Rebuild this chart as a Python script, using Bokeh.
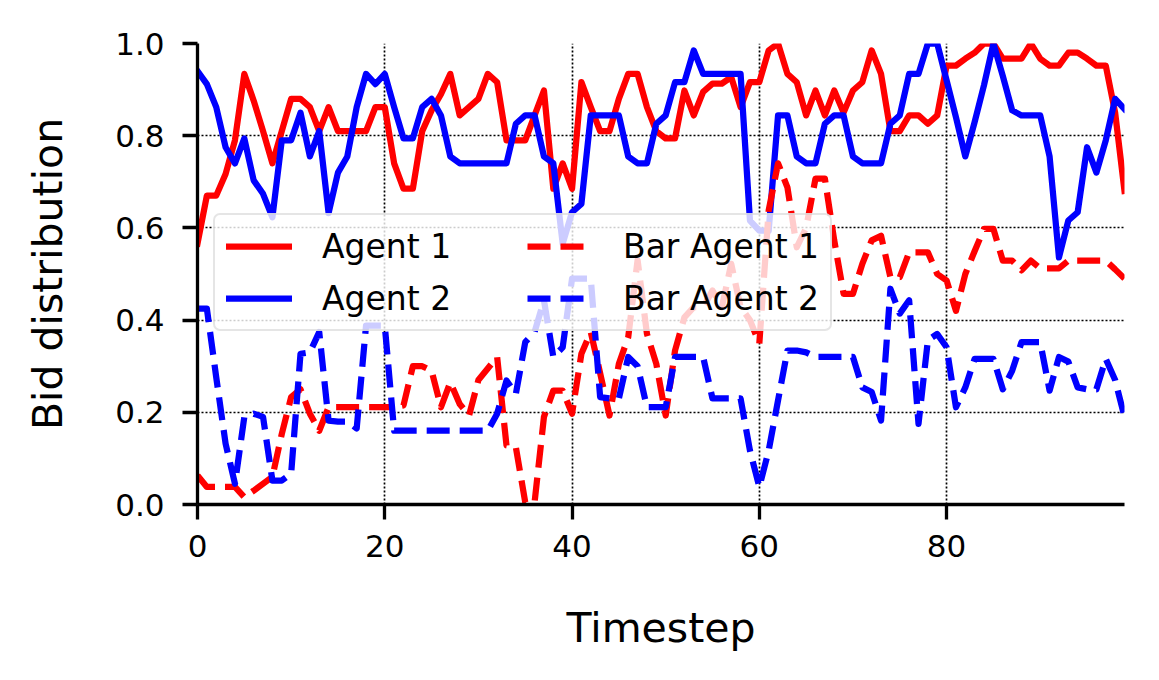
from bokeh.plotting import figure
from bokeh.models import (Range1d, FixedTicker, PrintfTickFormatter, Legend, LegendItem)
from bokeh.embed import file_html
from bokeh.resources import INLINE

timesteps = list(range(100))

agent1 = [0.566, 0.67, 0.67, 0.717, 0.79, 0.934, 0.876, 0.81, 0.74, 0.81,
          0.88, 0.88, 0.862, 0.81, 0.862, 0.81, 0.81, 0.81, 0.81, 0.862,
          0.862, 0.74, 0.685, 0.685, 0.81, 0.855, 0.89, 0.934, 0.844, 0.862,
          0.88, 0.934, 0.916, 0.79, 0.79, 0.79, 0.844, 0.898, 0.685, 0.74,
          0.685, 0.916, 0.862, 0.81, 0.81, 0.88, 0.934, 0.934, 0.862, 0.81,
          0.794, 0.794, 0.898, 0.844, 0.895, 0.913, 0.913, 0.927, 0.862, 0.916,
          0.916, 0.985, 1.0, 0.934, 0.916, 0.844, 0.898, 0.844, 0.898, 0.85,
          0.898, 0.916, 0.985, 0.934, 0.81, 0.81, 0.844, 0.844, 0.826, 0.844,
          0.952, 0.952, 0.967, 0.98, 1.0, 1.0, 0.967, 0.967, 0.967, 1.0,
          0.967, 0.952, 0.952, 0.98, 0.98, 0.967, 0.952, 0.952, 0.85, 0.68]

agent2 = [0.94, 0.912, 0.862, 0.775, 0.74, 0.794, 0.703, 0.674, 0.623, 0.79,
          0.79, 0.85, 0.755, 0.81, 0.632, 0.72, 0.755, 0.862, 0.934, 0.912,
          0.934, 0.862, 0.794, 0.794, 0.862, 0.88, 0.844, 0.755, 0.74, 0.74,
          0.74, 0.74, 0.74, 0.74, 0.826, 0.844, 0.844, 0.755, 0.74, 0.566,
          0.634, 0.652, 0.844, 0.844, 0.844, 0.844, 0.755, 0.74, 0.74, 0.826,
          0.844, 0.916, 0.916, 0.985, 0.934, 0.934, 0.934, 0.934, 0.934, 0.616,
          0.594, 0.594, 0.844, 0.844, 0.755, 0.74, 0.74, 0.826, 0.844, 0.844,
          0.755, 0.74, 0.74, 0.74, 0.826, 0.844, 0.934, 0.934, 1.0, 1.0,
          0.92, 0.84, 0.755, 0.83, 0.91, 1.0, 0.93, 0.855, 0.844, 0.844,
          0.844, 0.755, 0.536, 0.616, 0.634, 0.775, 0.72, 0.79, 0.88, 0.858]

bar_agent1 = [0.063, 0.038, 0.038, 0.038, 0.038, 0.016, 0.03, 0.045, 0.06, 0.153,
              0.233, 0.25, 0.197, 0.16, 0.211, 0.211, 0.211, 0.211, 0.211, 0.211,
              0.211, 0.211, 0.215, 0.30, 0.30, 0.29, 0.211, 0.265, 0.218, 0.193,
              0.27, 0.295, 0.32, 0.128, 0.124, 0.005, 0.005, 0.19, 0.247, 0.247,
              0.197, 0.327, 0.374, 0.285, 0.193, 0.305, 0.363, 0.53, 0.37, 0.305,
              0.193, 0.334, 0.406, 0.428, 0.428, 0.464, 0.428, 0.522, 0.428, 0.40,
              0.349, 0.638, 0.74, 0.688, 0.558, 0.60, 0.707, 0.707, 0.573, 0.457,
              0.457, 0.522, 0.573, 0.583, 0.493, 0.493, 0.547, 0.547, 0.547, 0.50,
              0.486, 0.42, 0.50, 0.55, 0.598, 0.598, 0.529, 0.529, 0.508, 0.529,
              0.512, 0.512, 0.512, 0.529, 0.529, 0.529, 0.529, 0.529, 0.51, 0.49]

bar_agent2 = [0.425, 0.425, 0.276, 0.132, 0.045, 0.19, 0.197, 0.19, 0.052, 0.052,
              0.067, 0.327, 0.33, 0.374, 0.182, 0.18, 0.18, 0.165, 0.388, 0.388,
              0.388, 0.16, 0.16, 0.16, 0.16, 0.16, 0.16, 0.16, 0.16, 0.16,
              0.16, 0.16, 0.197, 0.269, 0.24, 0.352, 0.374, 0.443, 0.32, 0.341,
              0.49, 0.49, 0.49, 0.233, 0.23, 0.23, 0.32, 0.30, 0.211, 0.211,
              0.211, 0.32, 0.32, 0.32, 0.32, 0.23, 0.23, 0.23, 0.23, 0.117,
              0.038, 0.117, 0.226, 0.334, 0.334, 0.33, 0.32, 0.32, 0.32, 0.32,
              0.32, 0.254, 0.244, 0.182, 0.468, 0.414, 0.443, 0.175, 0.356, 0.37,
              0.341, 0.211, 0.254, 0.316, 0.316, 0.316, 0.25, 0.29, 0.352, 0.352,
              0.352, 0.247, 0.32, 0.31, 0.254, 0.25, 0.25, 0.316, 0.27, 0.19]

x_ticks = [0, 20, 40, 60, 80]
y_ticks = [0.0, 0.2, 0.4, 0.6, 0.8, 1.0]
series_labels = ["Agent 1", "Agent 2", "Bar Agent 1", "Bar Agent 2"]

FONT = "DejaVu Sans"

p = figure(width=1143, height=664, output_backend="svg", toolbar_location=None,
           x_range=Range1d(0, 99), y_range=Range1d(0, 1.0),
           min_border_left=197, min_border_right=19, min_border_top=43,
           min_border_bottom=160)
p.outline_line_color = None
p.background_fill_color = "white"

lw = 6.25
r1 = p.line(timesteps, agent1, line_color="#ff0000", line_width=lw,
            line_join="round", line_cap="square")
r2 = p.line(timesteps, agent2, line_color="#0000ff", line_width=lw,
            line_join="round", line_cap="square")
r3 = p.line(timesteps, bar_agent1, line_color="#ff0000", line_width=lw,
            line_join="round", line_dash="23 10")
r4 = p.line(timesteps, bar_agent2, line_color="#0000ff", line_width=lw,
            line_join="round", line_dash="23 10")

# axes
for ax in (p.xaxis, p.yaxis):
    ax.axis_line_width = 3.3
    ax.major_tick_line_width = 3.3
    ax.major_tick_out = 15
    ax.major_tick_in = 0
    ax.minor_tick_line_color = None
    ax.major_label_text_font = FONT
    ax.major_label_text_font_size = "31px"
    ax.major_label_text_color = "black"
    ax.axis_label_text_font = FONT
    ax.axis_label_text_font_size = "41px"
    ax.axis_label_text_font_style = "normal"
    ax.axis_label_text_color = "black"

p.xaxis.ticker = FixedTicker(ticks=x_ticks)
p.yaxis.ticker = FixedTicker(ticks=y_ticks)
p.yaxis.formatter = PrintfTickFormatter(format="%.1f")
p.xaxis.axis_label = "Timestep"
p.yaxis.axis_label = "Bid distribution"
p.xaxis.major_label_standoff = 15
p.yaxis.major_label_standoff = 18
p.xaxis.axis_label_standoff = 44
p.yaxis.axis_label_standoff = 40

p.xgrid.ticker = FixedTicker(ticks=x_ticks)
p.ygrid.ticker = FixedTicker(ticks=y_ticks)
p.grid.grid_line_color = "black"
p.grid.grid_line_width = 1.7
p.grid.grid_line_dash = "2 2"

items = [LegendItem(label=series_labels[0], renderers=[r1]),
         LegendItem(label=series_labels[1], renderers=[r2]),
         LegendItem(label=series_labels[2], renderers=[r3]),
         LegendItem(label=series_labels[3], renderers=[r4])]
legend = Legend(items=items, location=(16, 173), ncols=2,
                glyph_width=66, glyph_height=40, label_height=40,
                label_width=193, label_standoff=30, spacing=12, padding=11,
                margin=0,
                label_text_font=FONT, label_text_font_size="33px",
                label_text_color="black",
                background_fill_color="white", background_fill_alpha=0.8,
                border_line_color="#cccccc", border_line_width=2.7,
                border_radius=7)
p.add_layout(legend, "center")

open("out.html", "w").write(file_html(p, INLINE))
